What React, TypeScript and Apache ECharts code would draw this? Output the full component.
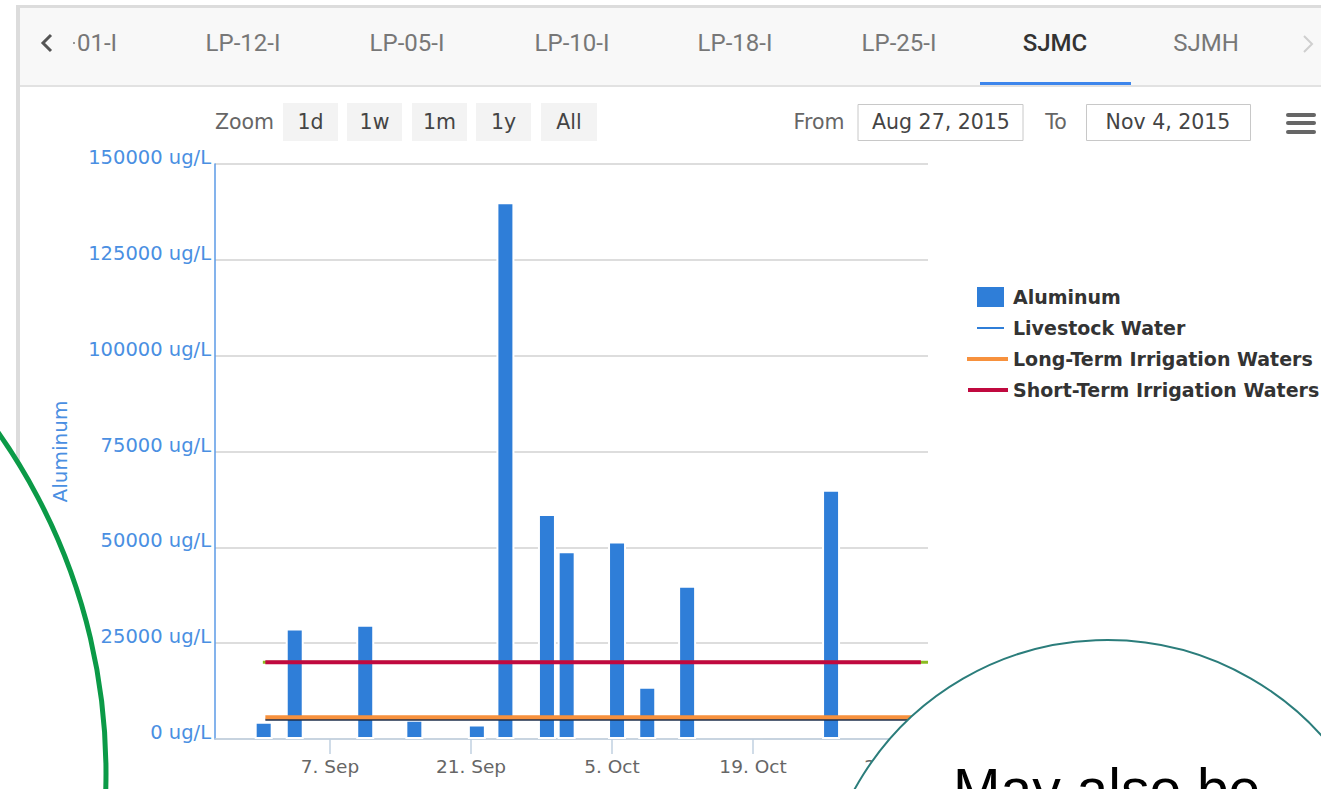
import React, { useEffect, useRef } from "react";
import * as echarts from "echarts";

// ---------- data ----------
const sampleDates = [
  "2015-08-31T10:00:00Z",
  "2015-09-03T12:00:00Z",
  "2015-09-10T12:00:00Z",
  "2015-09-15T09:00:00Z",
  "2015-09-21T14:00:00Z",
  "2015-09-24T10:00:00Z",
  "2015-09-28T13:00:00Z",
  "2015-09-30T12:00:00Z",
  "2015-10-05T12:00:00Z",
  "2015-10-08T12:00:00Z",
  "2015-10-12T11:00:00Z",
  "2015-10-26T18:00:00Z",
];
const aluminumValues = [4500, 28800, 29800, 5000, 3800, 140000, 58700, 49000, 51500, 13600, 40000, 65000];

const limitDates = ["2015-08-31T14:00:00Z", "2015-11-04T16:00:00Z"];
const livestockWater = [5000, 5000];
const longTermIrrigation = [5700, 5700];
const shortTermIrrigation = [20000, 20000];
const backdropDates = ["2015-08-31T08:00:00Z", "2015-11-05T09:00:00Z"];
const backdropValues = [20000, 20000];

const axisRange = ["2015-08-26T14:00:00Z", "2015-11-05T09:00:00Z"];
const yTicks = [0, 25000, 50000, 75000, 100000, 125000, 150000];
const yTickLabels = ["0 ug/L", "25000 ug/L", "50000 ug/L", "75000 ug/L", "100000 ug/L", "125000 ug/L", "150000 ug/L"];
const xTickDates = ["2015-09-07T00:00:00Z", "2015-09-21T00:00:00Z", "2015-10-05T00:00:00Z", "2015-10-19T00:00:00Z", "2015-11-02T00:00:00Z"];
const xTickLabels = ["7. Sep", "21. Sep", "5. Oct", "19. Oct", "2. Nov"];

const tabLabels = ["01-I", "LP-12-I", "LP-05-I", "LP-10-I", "LP-18-I", "LP-25-I", "SJMC", "SJMH"];
const activeTab = "SJMC";
const zoomButtons = ["1d", "1w", "1m", "1y", "All"];
const fromDate = "Aug 27, 2015";
const toDate = "Nov 4, 2015";
const note = "May also be";

const seriesNames = ["Aluminum", "Livestock Water", "Long-Term Irrigation Waters", "Short-Term Irrigation Waters"];

// ---------- layout (positions only) ----------
const tabCenters = [98, 243, 407, 572, 735, 899, 1055, 1206];
const buttonLefts = [283, 347, 412, 476, 541];
const buttonWidths = [55, 55, 55, 55, 56];

const ts = (s: string) => Date.parse(s);
const DJ = "DejaVu Sans";
const ROW_FONT = `20.5px ${DJ}`;

function buildGraphics() {
  const g: any[] = [];
  // frame & tab bar
  g.push({ type: "rect", shape: { x: 16, y: 5, width: 1305, height: 3 }, style: { fill: "#dcdcdc" } });
  g.push({ type: "rect", shape: { x: 16, y: 5, width: 4, height: 784 }, style: { fill: "#dcdcdc" } });
  g.push({ type: "rect", shape: { x: 20, y: 8, width: 1301, height: 77 }, style: { fill: "#f8f8f8" } });
  g.push({ type: "rect", shape: { x: 20, y: 85, width: 1301, height: 2 }, style: { fill: "#e2e2e2" } });
  g.push({ type: "rect", shape: { x: 980, y: 82, width: 151, height: 3 }, style: { fill: "#3d86ec" } });
  g.push({
    type: "polyline",
    shape: { points: [[51, 35], [43, 43], [51, 51]] },
    style: { stroke: "#555", lineWidth: 3, fill: null },
  });
  g.push({
    type: "polyline",
    shape: { points: [[1304, 36], [1312, 44], [1304, 52]] },
    style: { stroke: "#cfcfcf", lineWidth: 2, fill: null },
  });
  g.push({ type: "rect", shape: { x: 73, y: 42, width: 2, height: 2 }, style: { fill: "#999" } });
  tabLabels.forEach((t, i) => {
    const active = t === activeTab;
    const first = i === 0;
    g.push({
      type: "text",
      x: first ? 77 : tabCenters[i],
      y: 43,
      style: {
        text: t,
        fill: active ? "#333" : "#777",
        font: `${active ? "500 " : ""}24px Roboto`,
        align: first ? "left" : "center",
        textAlign: first ? "left" : "center",
        verticalAlign: "middle",
        textVerticalAlign: "middle",
      },
    });
  });
  // zoom row
  g.push({
    type: "text",
    x: 274,
    y: 122,
    style: { text: "Zoom", fill: "#666", font: ROW_FONT, align: "right", textAlign: "right", verticalAlign: "middle", textVerticalAlign: "middle" },
  });
  zoomButtons.forEach((b, i) => {
    g.push({ type: "rect", shape: { x: buttonLefts[i], y: 103, width: buttonWidths[i], height: 38 }, style: { fill: "#f3f3f3" } });
    g.push({
      type: "text",
      x: buttonLefts[i] + buttonWidths[i] / 2,
      y: 122,
      style: { text: b, fill: "#444", font: ROW_FONT, align: "center", textAlign: "center", verticalAlign: "middle", textVerticalAlign: "middle" },
    });
  });
  g.push({
    type: "text",
    x: 819,
    y: 122,
    style: { text: "From", fill: "#666", font: ROW_FONT, align: "center", textAlign: "center", verticalAlign: "middle", textVerticalAlign: "middle" },
  });
  g.push({ type: "rect", shape: { x: 858, y: 104.5, width: 165, height: 36 }, style: { fill: "#fff", stroke: "#c8c8c8", lineWidth: 1 } });
  g.push({
    type: "text",
    x: 941,
    y: 122,
    style: { text: fromDate, fill: "#444", font: ROW_FONT, align: "center", textAlign: "center", verticalAlign: "middle", textVerticalAlign: "middle" },
  });
  g.push({
    type: "text",
    x: 1056,
    y: 122,
    style: { text: "To", fill: "#666", font: ROW_FONT, align: "center", textAlign: "center", verticalAlign: "middle", textVerticalAlign: "middle" },
  });
  g.push({ type: "rect", shape: { x: 1086.5, y: 104.5, width: 164, height: 36 }, style: { fill: "#fff", stroke: "#c8c8c8", lineWidth: 1 } });
  g.push({
    type: "text",
    x: 1168,
    y: 122,
    style: { text: toDate, fill: "#444", font: ROW_FONT, align: "center", textAlign: "center", verticalAlign: "middle", textVerticalAlign: "middle" },
  });
  [113, 121, 130].forEach((y) => {
    g.push({ type: "rect", shape: { x: 1286, y, width: 30, height: 4, r: 2 }, style: { fill: "#666" } });
  });
  // annotation circles
  g.push({
    type: "circle",
    z: 100,
    shape: { cx: -485, cy: 773, r: 591 },
    style: { fill: "#fff", stroke: "#0b9a47", lineWidth: 5 },
  });
  g.push({
    type: "circle",
    z: 100,
    shape: { cx: 1107, cy: 928, r: 288 },
    style: { fill: "#fff", stroke: "#2b7d7b", lineWidth: 2 },
  });
  g.push({
    type: "text",
    z: 101,
    x: 953,
    y: 789,
    style: {
      text: note,
      fill: "#000",
      font: "57px 'Liberation Sans'",
      align: "left",
      textAlign: "left",
      verticalAlign: "middle",
      textVerticalAlign: "middle",
    },
  });
  return g;
}

const blank = "M0,0 L0.01,0 L0,0.01 Z M41,20 L40.99,20 L41,19.99 Z ";

export default function App() {
  const ref = useRef<HTMLDivElement>(null);
  useEffect(() => {
    if (!ref.current) return;
    const chart = echarts.init(ref.current, undefined, { renderer: "svg" });
    const option: any = {
      animation: false,
      backgroundColor: "#ffffff",
      grid: { left: 215, top: 164, width: 713, height: 575, containLabel: false },
      legend: {
        orient: "vertical",
        left: 967,
        top: 287,
        padding: 0,
        itemWidth: 41,
        itemHeight: 20,
        itemGap: 11,
        selectedMode: false,
        itemStyle: { borderWidth: 0 },
        textStyle: { fontFamily: DJ, fontWeight: "bold", fontSize: 19, color: "#333" },
        data: [
          { name: seriesNames[0], icon: "path://" + blank + "M10,0 H37 V20 H10 Z", itemStyle: { color: "#2f7ed8" } },
          { name: seriesNames[1], icon: "path://" + blank + "M10,9 H37 V11 H10 Z", itemStyle: { color: "#2f7ed8" } },
          { name: seriesNames[2], icon: "path://" + blank + "M0,8 H41 V12 H0 Z", itemStyle: { color: "#f7913d" } },
          { name: seriesNames[3], icon: "path://" + blank + "M1,8 H41 V12 H1 Z", itemStyle: { color: "#c0093f" } },
        ],
      },
      xAxis: {
        type: "value",
        min: ts(axisRange[0]),
        max: ts(axisRange[1]),
        splitLine: { show: false },
        axisLine: { show: true, lineStyle: { color: "#c0d0e0", width: 1.5 } },
        axisTick: {
          show: true,
          customValues: xTickDates.map(ts),
          length: 15,
          lineStyle: { color: "#c0d0e0", width: 1.5 },
        },
        axisLabel: {
          customValues: xTickDates.map(ts),
          formatter: (v: number) => {
            const i = xTickDates.map(ts).indexOf(v);
            return i >= 0 ? xTickLabels[i] : "";
          },
          color: "#666",
          fontFamily: DJ,
          fontSize: 18.5,
          margin: 18,
        },
      },
      yAxis: {
        type: "value",
        min: 0,
        max: 150000,
        interval: 25000,
        name: "Aluminum",
        nameLocation: "middle",
        nameRotate: 90,
        nameGap: 145,
        nameTextStyle: { color: "#4a8fe2", fontFamily: DJ, fontSize: 20 },
        axisLine: { show: true, lineStyle: { color: "#5b9ae6", width: 1.5 } },
        axisTick: { show: false },
        splitLine: { show: true, lineStyle: { color: "#d2d2d2", width: 1.5 } },
        axisLabel: {
          formatter: (v: number) => {
            const i = yTicks.indexOf(v);
            return i >= 0 ? yTickLabels[i] : "";
          },
          color: "#4a8fe2",
          fontFamily: DJ,
          fontSize: 19.5,
          margin: 4,
          verticalAlign: "bottom",
          lineHeight: 13,
        },
      },
      series: [
        {
          name: seriesNames[0],
          type: "bar",
          barWidth: 18,
          z: 2,
          itemStyle: { color: "#2f7ed8", borderColor: "#ffffff", borderWidth: 2 },
          data: sampleDates.map((d, i) => [ts(d), aluminumValues[i]]),
        },
        {
          name: "backdrop",
          type: "line",
          symbol: "none",
          z: 3,
          lineStyle: { color: "#8bbc21", width: 3 },
          itemStyle: { color: "#8bbc21" },
          data: backdropDates.map((d, i) => [ts(d), backdropValues[i]]),
        },
        {
          name: seriesNames[1],
          type: "line",
          symbol: "none",
          z: 3,
          lineStyle: { color: "#1e2f4d", width: 2 },
          itemStyle: { color: "#2f7ed8" },
          data: limitDates.map((d, i) => [ts(d), livestockWater[i]]),
        },
        {
          name: seriesNames[2],
          type: "line",
          symbol: "none",
          z: 4,
          lineStyle: { color: "#f7913d", width: 4 },
          itemStyle: { color: "#f7913d" },
          data: limitDates.map((d, i) => [ts(d), longTermIrrigation[i]]),
        },
        {
          name: seriesNames[3],
          type: "line",
          symbol: "none",
          z: 4,
          lineStyle: { color: "#c0093f", width: 4 },
          itemStyle: { color: "#c0093f" },
          data: limitDates.map((d, i) => [ts(d), shortTermIrrigation[i]]),
        },
      ],
      graphic: { elements: buildGraphics() },
    };
    chart.setOption(option);
    return () => chart.dispose();
  }, []);
  return (
    <div
      ref={ref}
      style={{ position: "absolute", left: 0, top: 0, width: 1321, height: 789, background: "#fff" }}
    />
  );
}
